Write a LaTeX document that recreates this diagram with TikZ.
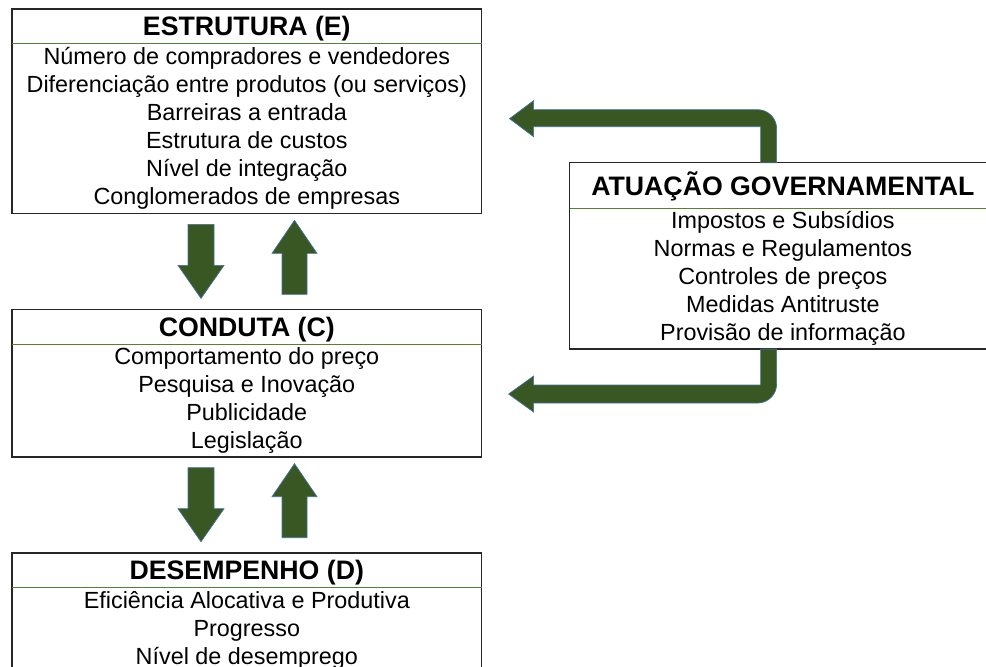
\documentclass[tikz,border=0pt]{standalone}
\usepackage{fontspec}
\setmainfont{Liberation Sans}
\usepackage{tikz}
\usetikzlibrary{
	positioning,
	calc
}
\definecolor{arrowgreen}{RGB}{56,87,35}
\definecolor{edgeblue}{RGB}{65,113,156}
\definecolor{rulegreen}{RGB}{84,130,53}

\begin{document}
\begin{tikzpicture}[x=0.02cm, y=-0.02cm,
					titlebox/.style={
					rectangle, inner sep=0pt,
					minimum width=9.38cm, minimum height=0.68cm,
					text height=10.9pt, text depth=0pt,
					align=center, font=\bfseries\fontsize{15.2}{17}\selectfont
				},
				bodybox/.style={
					rectangle, inner sep=0pt,
					minimum width=9.38cm,
					align=center, font=\fontsize{13.3}{15.94}\selectfont
				},
				frame/.style={draw=black!85, line width=0.9pt},
				splitline/.style={draw=rulegreen, line width=0.6pt},
				blockarrow/.style={fill=arrowgreen, draw=edgeblue, line width=0.4pt},
				]
				\useasboundingbox (0,0) rectangle (986,666);
				\clip (0,0) rectangle (986,666);
				
				%estrutura
				\node[titlebox, anchor=north west] (etitle) at (12,9) {ESTRUTURA (E)};
				\node[bodybox, minimum height=3.38cm, below=0pt of etitle] (ebody) {Número de compradores e vendedores\\Diferenciação entre produtos (ou serviços)\\Barreiras a entrada\\Estrutura de custos\\Nível de integração\\Conglomerados de empresas};
				\draw[frame] (etitle.north west) rectangle (ebody.south east);
				\draw[splitline] (etitle.south west) -- (etitle.south east);
				
				%conduta
				\node[titlebox, below=1.92cm of ebody] (ctitle) {CONDUTA (C)};
				\node[bodybox, minimum height=2.24cm, below=0pt of ctitle] (cbody) {Comportamento do preço\\Pesquisa e Inovação\\Publicidade\\Legislação};
				\draw[frame] (ctitle.north west) rectangle (cbody.south east);
				\draw[splitline] (ctitle.south west) -- (ctitle.south east);
				
				%desempenho
				\node[titlebox, below=1.92cm of cbody] (dtitle) {DESEMPENHO (D)};
				\node[bodybox, minimum height=1.70cm, below=0pt of dtitle] (dbody) {Eficiência Alocativa e Produtiva\\Progresso\\Nível de desemprego};
				\draw[frame] (dtitle.north west) rectangle (dbody.south east);
				\draw[splitline] (dtitle.south west) -- (dtitle.south east);
				
				%atuacao governamental
				\node (gtitle) at (ebody.north east) [titlebox, anchor=north west, minimum width=8.52cm, minimum height=0.9cm, xshift=1.76cm, yshift=-2.38cm] {ATUAÇÃO GOVERNAMENTAL};
				\node[bodybox, minimum width=8.52cm, minimum height=2.8cm, below=0pt of gtitle] (gbody) {Impostos e Subsídios\\Normas e Regulamentos\\Controles de preços\\Medidas Antitruste\\Provisão de informação};
				\draw[frame] (gtitle.north west) rectangle (gbody.south east);
				\draw[splitline] (gtitle.south west) -- (gtitle.south east);
				
				%arrows between the boxes
				\foreach \upper in {ebody, cbody} {
					\draw[blockarrow] ($(\upper.south west)+(176,11)$) -- ++(26,0) -- ++(0,41) -- ++(10,0) -- ++(-23,33) -- ++(-23,-33) -- ++(10,0) -- cycle;
					\draw[blockarrow] ($(\upper.south west)+(282.5,7)$) -- ++(22.5,33) -- ++(-10,0) -- ++(0,41) -- ++(-25,0) -- ++(0,-41) -- ++(-10,0) -- cycle;
				}
				
				%governo -> estrutura
				\draw[blockarrow] ($(gtitle.north west)+(191,0)$) -- ++(0,-36) -- ++(-227,0) -- ++(0,10) -- ++(-24,-18) -- ++(24,-18) -- ++(0,9) -- ++(224,0) .. controls +(10.5,0) and +(0,-10.5) .. ++(19,19) -- ++(0,34) -- cycle;
				
				%governo -> conduta
				\draw[blockarrow] ($(gbody.south west)+(191,0)$) -- ++(0,36) -- ++(-227,0) -- ++(0,-9) -- ++(-25,18) -- ++(25,18) -- ++(0,-9) -- ++(224,0) .. controls +(10.5,0) and +(0,10.5) .. ++(19,-19) -- ++(0,-35) -- cycle;
			\end{tikzpicture}
\end{document}
